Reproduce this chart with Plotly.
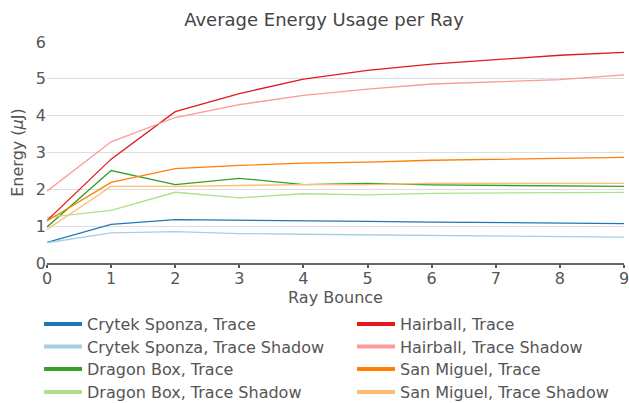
import plotly.graph_objects as go

bounces = [0, 1, 2, 3, 4, 5, 6, 7, 8, 9]

crytek_trace = [0.56, 1.05, 1.18, 1.17, 1.15, 1.13, 1.11, 1.10, 1.08, 1.07]
crytek_shadow = [0.55, 0.82, 0.85, 0.80, 0.78, 0.76, 0.75, 0.73, 0.72, 0.70]
dragon_trace = [0.98, 2.51, 2.13, 2.30, 2.13, 2.16, 2.12, 2.11, 2.09, 2.08]
dragon_shadow = [1.24, 1.43, 1.92, 1.77, 1.88, 1.85, 1.89, 1.89, 1.91, 1.92]
hairball_trace = [1.15, 2.82, 4.11, 4.60, 4.99, 5.23, 5.40, 5.52, 5.64, 5.72]
hairball_shadow = [1.95, 3.29, 3.95, 4.30, 4.55, 4.72, 4.86, 4.93, 4.98, 5.11]
sanmiguel_trace = [1.14, 2.19, 2.56, 2.65, 2.71, 2.74, 2.79, 2.81, 2.84, 2.87]
sanmiguel_shadow = [0.91, 2.08, 2.08, 2.11, 2.13, 2.13, 2.16, 2.16, 2.16, 2.16]

names = ["Crytek Sponza, Trace", "Crytek Sponza, Trace Shadow",
         "Dragon Box, Trace", "Dragon Box, Trace Shadow",
         "Hairball, Trace", "Hairball, Trace Shadow",
         "San Miguel, Trace", "San Miguel, Trace Shadow"]
series = [crytek_trace, crytek_shadow, dragon_trace, dragon_shadow,
          hairball_trace, hairball_shadow, sanmiguel_trace, sanmiguel_shadow]
colors = ["#1f78b4", "#a6cee3", "#33a02c", "#b2df8a",
          "#e31a1c", "#fb9a99", "#ff7f00", "#fdbf6f"]

font_color = "#555555"

fig = go.Figure()
for n, s, c in zip(names, series, colors):
    fig.add_trace(go.Scatter(x=bounces, y=s, mode="lines", name=n,
                             line=dict(color=c, width=1.3), showlegend=False))

# one legend per entry, laid out in two columns of four rows
legend_layout = {}
row_centers_px = [324, 346.5, 369, 392]   # in figure pixels
plot_bottom_px, plot_h = 263, 221
col_x = [-0.0138, 0.5286]
for i, (n, c) in enumerate(zip(names, colors)):
    key = "legend" if i == 0 else f"legend{i + 1}"
    fig.add_trace(go.Scatter(x=[None], y=[None], mode="lines", name=n,
                             line=dict(color=c, width=4), legend=key))
    col, row = divmod(i, 4)
    legend_layout[key] = dict(
        x=col_x[col], y=-(row_centers_px[row] - plot_bottom_px) / plot_h,
        xanchor="left", yanchor="middle", itemwidth=38,
        font=dict(family="DejaVu Sans", size=16, color=font_color),
        bgcolor="rgba(0,0,0,0)")

fig.update_layout(
    width=629, height=403,
    margin=dict(l=47, r=5, t=42, b=140, autoexpand=False),
    paper_bgcolor="white", plot_bgcolor="white",
    font=dict(family="DejaVu Sans", color=font_color),
    title=dict(text="Average Energy Usage per Ray", x=324 / 629, xanchor="center",
               y=1 - 20 / 403, yanchor="middle",
               font=dict(family="DejaVu Sans", size=18, color="#444444")),
    xaxis=dict(range=[0, 9], tickmode="array", tickvals=bounces,
               showgrid=False, zeroline=False, automargin=False,
               showline=True, linecolor="#666666", linewidth=2,
               ticks="outside", ticklen=3, tickwidth=1.5, tickcolor="#555555",
               ticklabeloverflow="allow", ticklabelstandoff=-3,
               tickfont=dict(size=16, color=font_color),
               title=dict(text="Ray Bounce", font=dict(size=16, color=font_color), standoff=0)),
    yaxis=dict(range=[0, 6], tickvals=[0, 1, 2, 3, 4, 5, 6],
               showgrid=True, gridcolor="#dddddd", gridwidth=1,
               zeroline=False, showline=False, automargin=False,
               tickfont=dict(size=16, color=font_color),
               title=dict(text="Energy (<i>μ</i>J)", font=dict(size=16, color=font_color), standoff=8)),
    **legend_layout,
)

fig.write_html("out.html", config={"displayModeBar": False},
               post_script="document.body.style.margin='0';document.body.style.overflow='hidden';")
